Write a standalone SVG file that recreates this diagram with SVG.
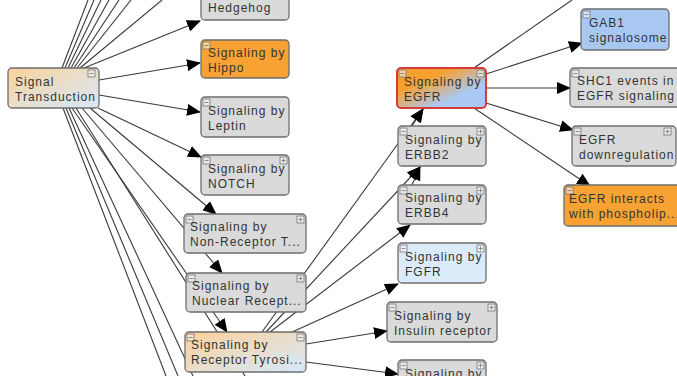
<svg xmlns="http://www.w3.org/2000/svg" width="677" height="376" viewBox="0 0 677 376">
<style>
.n{stroke:#6e6e6e;stroke-width:1.3}
.g{fill:#dadada}
.o{fill:#f7a233}
.lb{fill:#dcebfa}
.b{fill:#a8c8f2}
.t{font-family:"Liberation Sans",Arial,sans-serif;font-size:12px;letter-spacing:1px;fill:#333}
.e{stroke:#3a3a3a;stroke-width:1.1;fill:none}
.a{marker-end:url(#ar)}
.m{fill:#f4f4f4;fill-opacity:0.6;stroke:#777;stroke-width:0.8}
.ml{stroke:#777;stroke-width:0.8}
</style>
<defs>
<marker id="ar" markerUnits="userSpaceOnUse" markerWidth="14" markerHeight="12" refX="13" refY="6" orient="auto">
<path d="M0,0 L14,6 L0,12 Z" fill="#000"/>
</marker>
<linearGradient id="gst" x1="0" y1="0" x2="1" y2="1">
<stop offset="0" stop-color="#fbd29a"/>
<stop offset="1" stop-color="#d6e9fb"/>
</linearGradient>
<linearGradient id="geg" x1="0" y1="0" x2="1" y2="1">
<stop offset="0.3" stop-color="#f8a02e"/>
<stop offset="0.7" stop-color="#a9c8f4"/>
</linearGradient>
</defs>
<g id="connectors">
<line class="e" x1="62" y1="68" x2="88" y2="0"/>
<line class="e" x1="65" y1="68" x2="94" y2="0"/>
<line class="e" x1="68" y1="68" x2="101" y2="0"/>
<line class="e" x1="71" y1="68" x2="109" y2="0"/>
<line class="e" x1="74" y1="68" x2="119" y2="0"/>
<line class="e" x1="77" y1="68" x2="131" y2="0"/>
<line class="e" x1="80" y1="68" x2="162" y2="0"/>
<line class="e a" x1="84" y1="68" x2="200" y2="21"/>
<line class="e a" x1="99" y1="80" x2="200" y2="63"/>
<line class="e a" x1="99" y1="95" x2="200" y2="112"/>
<line class="e a" x1="98" y1="108" x2="201" y2="157"/>
<line class="e a" x1="90" y1="108" x2="216" y2="214"/>
<line class="e a" x1="82" y1="108" x2="222" y2="273"/>
<line class="e a" x1="72" y1="108" x2="227" y2="332"/>
<line class="e" x1="76" y1="108" x2="245" y2="376"/>
<line class="e" x1="69" y1="108" x2="193" y2="376"/>
<line class="e" x1="66" y1="108" x2="178" y2="376"/>
<line class="e" x1="63" y1="108" x2="166" y2="376"/>
<line class="e a" x1="262" y1="332" x2="423" y2="109"/>
<line class="e a" x1="266" y1="332" x2="420" y2="167"/>
<line class="e a" x1="270" y1="332" x2="410" y2="225"/>
<line class="e a" x1="290" y1="333" x2="398" y2="284"/>
<line class="e a" x1="306" y1="344" x2="387" y2="331"/>
<line class="e a" x1="306" y1="362" x2="398" y2="374"/>
<line class="e a" x1="412" y1="126" x2="423" y2="109"/>
<line class="e a" x1="412" y1="185" x2="420" y2="167"/>
<line class="e" x1="474" y1="68" x2="572" y2="0"/>
<line class="e a" x1="486" y1="74" x2="582" y2="43"/>
<line class="e a" x1="486" y1="88" x2="570" y2="88"/>
<line class="e a" x1="486" y1="103" x2="573" y2="130"/>
<line class="e a" x1="474" y1="108" x2="590" y2="186"/>
</g>
<g id="signal-transduction">
<rect class="n" x="8" y="68" width="91" height="40" rx="4" fill="url(#gst)"/>
<rect class="m" x="88" y="70" width="7" height="7"/><line class="ml" x1="89.5" y1="73.5" x2="93.5" y2="73.5"/>
<text class="t" x="15" y="86">Signal</text><text class="t" x="15" y="101">Transduction</text>
</g>
<g id="hedgehog">
<rect class="n g" x="201" y="-20" width="88" height="40" rx="4"/>
<text class="t" x="208" y="12">Hedgehog</text>
</g>
<g id="hippo">
<rect class="n o" x="201" y="40" width="88" height="38" rx="4"/>
<rect class="m" x="203" y="42" width="7" height="7"/><line class="ml" x1="204.5" y1="45.5" x2="208.5" y2="45.5"/>
<text class="t" x="208" y="57">Signaling by</text><text class="t" x="208" y="72">Hippo</text>
</g>
<g id="leptin">
<rect class="n g" x="201" y="97" width="88" height="40" rx="4"/>
<rect class="m" x="203" y="99" width="7" height="7"/><line class="ml" x1="204.5" y1="102.5" x2="208.5" y2="102.5"/>
<text class="t" x="208" y="115">Signaling by</text><text class="t" x="208" y="130">Leptin</text>
</g>
<g id="notch">
<rect class="n g" x="201" y="155" width="88" height="40" rx="4"/>
<rect class="m" x="203" y="157" width="7" height="7"/><line class="ml" x1="204.5" y1="160.5" x2="208.5" y2="160.5"/>
<rect class="m" x="280" y="157" width="7" height="7"/><line class="ml" x1="281.5" y1="160.5" x2="285.5" y2="160.5"/><line class="ml" x1="283.5" y1="158.5" x2="283.5" y2="162.5"/>
<text class="t" x="208" y="173">Signaling by</text><text class="t" x="208" y="188">NOTCH</text>
</g>
<g id="non-receptor">
<rect class="n g" x="184" y="214" width="122" height="39" rx="4"/>
<rect class="m" x="186" y="216" width="7" height="7"/><line class="ml" x1="187.5" y1="219.5" x2="191.5" y2="219.5"/>
<rect class="m" x="297" y="216" width="7" height="7"/><line class="ml" x1="298.5" y1="219.5" x2="302.5" y2="219.5"/><line class="ml" x1="300.5" y1="217.5" x2="300.5" y2="221.5"/>
<text class="t" x="190" y="231">Signaling by</text><text class="t" x="190" y="246">Non-Receptor T...</text>
</g>
<g id="nuclear">
<rect class="n g" x="186" y="273" width="120" height="39" rx="4"/>
<rect class="m" x="188" y="275" width="7" height="7"/><line class="ml" x1="189.5" y1="278.5" x2="193.5" y2="278.5"/>
<rect class="m" x="297" y="275" width="7" height="7"/><line class="ml" x1="298.5" y1="278.5" x2="302.5" y2="278.5"/><line class="ml" x1="300.5" y1="276.5" x2="300.5" y2="280.5"/>
<text class="t" x="192" y="290">Signaling by</text><text class="t" x="192" y="305">Nuclear Recept...</text>
</g>
<g id="receptor-tyrosine">
<rect class="n" x="185" y="332" width="121" height="40" rx="4" fill="url(#gst)"/>
<rect class="m" x="187" y="334" width="7" height="7"/><line class="ml" x1="188.5" y1="337.5" x2="192.5" y2="337.5"/>
<rect class="m" x="297" y="334" width="7" height="7"/><line class="ml" x1="298.5" y1="337.5" x2="302.5" y2="337.5"/>
<text class="t" x="191" y="349">Signaling by</text><text class="t" x="191" y="364">Receptor Tyrosi...</text>
</g>
<g id="egfr">
<rect x="397" y="68" width="89" height="40" rx="4" fill="url(#geg)" stroke="#d83a3a" stroke-width="2"/>
<rect class="m" x="399" y="70" width="7" height="7"/><line class="ml" x1="400.5" y1="73.5" x2="404.5" y2="73.5"/>
<rect class="m" x="477" y="70" width="7" height="7"/><line class="ml" x1="478.5" y1="73.5" x2="482.5" y2="73.5"/>
<text class="t" x="404" y="86">Signaling by</text><text class="t" x="404" y="101">EGFR</text>
</g>
<g id="erbb2">
<rect class="n g" x="398" y="126" width="88" height="40" rx="4"/>
<rect class="m" x="400" y="128" width="7" height="7"/><line class="ml" x1="401.5" y1="131.5" x2="405.5" y2="131.5"/>
<rect class="m" x="477" y="128" width="7" height="7"/><line class="ml" x1="478.5" y1="131.5" x2="482.5" y2="131.5"/><line class="ml" x1="480.5" y1="129.5" x2="480.5" y2="133.5"/>
<text class="t" x="405" y="144">Signaling by</text><text class="t" x="405" y="159">ERBB2</text>
</g>
<g id="erbb4">
<rect class="n g" x="398" y="185" width="88" height="39" rx="4"/>
<rect class="m" x="400" y="187" width="7" height="7"/><line class="ml" x1="401.5" y1="190.5" x2="405.5" y2="190.5"/>
<rect class="m" x="477" y="187" width="7" height="7"/><line class="ml" x1="478.5" y1="190.5" x2="482.5" y2="190.5"/><line class="ml" x1="480.5" y1="188.5" x2="480.5" y2="192.5"/>
<text class="t" x="405" y="202">Signaling by</text><text class="t" x="405" y="217">ERBB4</text>
</g>
<g id="fgfr">
<rect class="n lb" x="398" y="243" width="88" height="40" rx="4"/>
<rect class="m" x="400" y="245" width="7" height="7"/><line class="ml" x1="401.5" y1="248.5" x2="405.5" y2="248.5"/>
<rect class="m" x="477" y="245" width="7" height="7"/><line class="ml" x1="478.5" y1="248.5" x2="482.5" y2="248.5"/><line class="ml" x1="480.5" y1="246.5" x2="480.5" y2="250.5"/>
<text class="t" x="405" y="261">Signaling by</text><text class="t" x="405" y="276">FGFR</text>
</g>
<g id="insulin">
<rect class="n g" x="387" y="302" width="110" height="40" rx="4"/>
<rect class="m" x="389" y="304" width="7" height="7"/><line class="ml" x1="390.5" y1="307.5" x2="394.5" y2="307.5"/>
<rect class="m" x="488" y="304" width="7" height="7"/><line class="ml" x1="489.5" y1="307.5" x2="493.5" y2="307.5"/><line class="ml" x1="491.5" y1="305.5" x2="491.5" y2="309.5"/>
<text class="t" x="394" y="320">Signaling by</text><text class="t" x="394" y="335">Insulin receptor</text>
</g>
<g id="bottom-node">
<rect class="n g" x="398" y="360" width="88" height="40" rx="4"/>
<rect class="m" x="400" y="362" width="7" height="7"/><line class="ml" x1="401.5" y1="365.5" x2="405.5" y2="365.5"/>
<rect class="m" x="477" y="362" width="7" height="7"/><line class="ml" x1="478.5" y1="365.5" x2="482.5" y2="365.5"/><line class="ml" x1="480.5" y1="363.5" x2="480.5" y2="367.5"/>
<text class="t" x="405" y="378">Signaling by</text>
</g>
<g id="gab1">
<rect class="n b" x="581" y="9" width="88" height="41" rx="4"/>
<rect class="m" x="583" y="11" width="7" height="7"/><line class="ml" x1="584.5" y1="14.5" x2="588.5" y2="14.5"/>
<text class="t" x="589" y="27">GAB1</text><text class="t" x="589" y="42">signalosome</text>
</g>
<g id="shc1">
<rect class="n g" x="570" y="68" width="112" height="39" rx="4"/>
<rect class="m" x="572" y="70" width="7" height="7"/><line class="ml" x1="573.5" y1="73.5" x2="577.5" y2="73.5"/>
<text class="t" x="577" y="85">SHC1 events in</text><text class="t" x="577" y="100">EGFR signaling</text>
</g>
<g id="egfr-down">
<rect class="n g" x="572" y="126" width="104" height="40" rx="4"/>
<rect class="m" x="574" y="128" width="7" height="7"/><line class="ml" x1="575.5" y1="131.5" x2="579.5" y2="131.5"/>
<rect class="m" x="664" y="128" width="7" height="7"/><line class="ml" x1="665.5" y1="131.5" x2="669.5" y2="131.5"/><line class="ml" x1="667.5" y1="129.5" x2="667.5" y2="133.5"/>
<text class="t" x="579" y="144">EGFR</text><text class="t" x="579" y="159">downregulation</text>
</g>
<g id="egfr-interacts">
<rect class="n o" x="564" y="185" width="120" height="41" rx="4"/>
<rect class="m" x="566" y="187" width="7" height="7"/><line class="ml" x1="567.5" y1="190.5" x2="571.5" y2="190.5"/>
<text class="t" x="569" y="203">EGFR interacts</text><text class="t" x="569" y="218">with phospholip...</text>
</g>
</svg>
